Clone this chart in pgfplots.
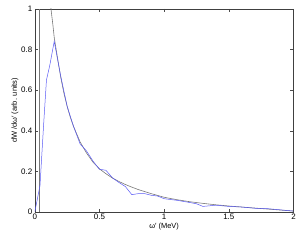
\documentclass[border=0pt]{standalone}
\usepackage{pgfplots}
\pgfplotsset{compat=1.18}
\usepackage{fontspec}
\setmainfont{Liberation Sans}
\definecolor{curvegray}{RGB}{120,120,120}
\definecolor{simblue}{RGB}{90,90,245}
\begin{document}
\begin{tikzpicture}
\begin{axis}[
  scale only axis,
  width=260pt, height=204pt,
  xmin=0, xmax=2, ymin=0, ymax=1,
  xtick={0,0.5,1,1.5,2},
  ytick={0,0.2,0.4,0.6,0.8,1},
  xticklabels={0,0.5,1,1.5,2},
  yticklabels={0,0.2,0.4,0.6,0.8,1},
  tick align=inside,
  major tick length=3pt,
  tick style={black!70, line width=0.4pt},
  axis line style={black!75, line width=0.5pt},
  ticklabel style={font=\fontsize{8}{9}\selectfont},
  label style={font=\fontsize{7.5}{9}\selectfont},
  xlabel={ω′ (MeV)},
  ylabel={dW /dω′ (arb. units)},
  xlabel style={yshift=4pt},
  ylabel style={yshift=-4pt},
  xticklabel style={yshift=1pt},
  yticklabel style={xshift=1pt},
  /pgf/number format/assume math mode=true,
]
% vertical line
\addplot[curvegray, line width=0.5pt] coordinates {(0.038,0) (0.038,1)};
% smooth reference curve
\addplot[curvegray, line width=0.6pt] coordinates {
(0.110,1.18) (0.125,1.0) (0.14,0.92) (0.15,0.86) (0.175,0.76) (0.2,0.665)
(0.225,0.585) (0.25,0.52) (0.275,0.465) (0.3,0.42) (0.35,0.345) (0.4,0.29)
(0.45,0.245) (0.5,0.212) (0.55,0.188) (0.6,0.167) (0.65,0.15) (0.7,0.135)
(0.75,0.122) (0.8,0.11) (0.9,0.09) (1.0,0.072) (1.1,0.06) (1.2,0.05)
(1.3,0.042) (1.4,0.035) (1.5,0.029) (1.6,0.024) (1.7,0.019) (1.8,0.014)
(1.9,0.009) (2.0,0.004)};
% simulated (blue) curve
\addplot[simblue, line width=0.5pt] coordinates {
(0,0) (0.04,0.13) (0.07,0.45) (0.09,0.65) (0.115,0.72) (0.15,0.84)
(0.2,0.67) (0.25,0.52) (0.3,0.42) (0.35,0.335) (0.4,0.30) (0.45,0.25)
(0.5,0.21) (0.55,0.205) (0.6,0.168) (0.65,0.145) (0.7,0.125) (0.75,0.085)
(0.8,0.09) (0.85,0.09) (0.9,0.082) (0.95,0.078) (1.0,0.065) (1.1,0.057)
(1.2,0.046) (1.25,0.04) (1.3,0.027) (1.4,0.033) (1.5,0.027) (1.6,0.024)
(1.7,0.018) (1.8,0.016) (1.9,0.01) (2.0,0.004)};
\end{axis}
\path ([shift={(-35pt,-27pt)}]current axis.south west) rectangle ([shift={(4pt,9pt)}]current axis.north east);
\end{tikzpicture}
\end{document}
